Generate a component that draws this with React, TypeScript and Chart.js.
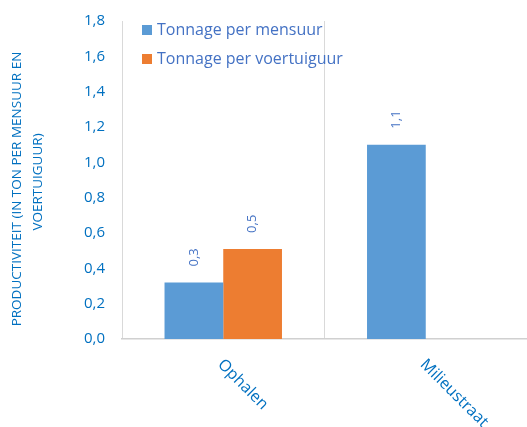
import React, { useEffect, useRef } from "react";
import { Chart, registerables } from "chart.js";

Chart.register(...registerables);

const categories = ["Ophalen", "Milieustraat"];
const seriesNames = ["Tonnage per mensuur", "Tonnage per voertuiguur"];
const tonnagePerMensuur: (number | null)[] = [0.32, 1.1];
const tonnagePerVoertuiguur: (number | null)[] = [0.51, null];
const seriesColors = ["#5B9BD5", "#ED7D31"];
const yMin = 0;
const yMax = 1.8;
const yStep = 0.2;
const yTitleLines = ["PRODUCTIVITEIT (IN TON PER MENSUUR EN", "VOERTUIGUUR)"];

const FONT = "'Open Sans', 'Liberation Sans', sans-serif";
const fmt = (v: number) => v.toFixed(1).replace(".", ",");

const customPlugin = {
  id: "customDraw",
  afterDraw(chart: any) {
    const ctx = chart.ctx as CanvasRenderingContext2D;
    const area = chart.chartArea;
    // data labels
    ctx.save();
    ctx.fillStyle = "#4472C4";
    ctx.font = `13px ${FONT}`;
    chart.data.datasets.forEach((ds: any, di: number) => {
      const meta = chart.getDatasetMeta(di);
      meta.data.forEach((bar: any, i: number) => {
        const v = ds.data[i];
        if (v === null || v === undefined) return;
        ctx.save();
        ctx.translate(bar.x, bar.y - 16);
        ctx.rotate(-Math.PI / 2);
        ctx.textAlign = "left";
        ctx.textBaseline = "middle";
        ctx.fillText(fmt(v), 0, 0);
        ctx.restore();
      });
    });
    ctx.restore();

    // x labels rotated clockwise
    const xScale = chart.scales.x;
    ctx.save();
    ctx.fillStyle = "#0070C0";
    ctx.font = `16px ${FONT}`;
    categories.forEach((c, i) => {
      const x = xScale.getPixelForValue(i);
      ctx.save();
      ctx.translate(x - 3, area.bottom + 23);
      ctx.rotate(Math.PI / 4);
      ctx.textAlign = "left";
      ctx.textBaseline = "middle";
      ctx.fillText(c, 0, 0);
      ctx.restore();
    });
    ctx.restore();

    // y title
    ctx.save();
    ctx.fillStyle = "#0070C0";
    ctx.font = `13.5px ${FONT}`;
    const xs = [17, 38];
    const ys = [189, 182];
    yTitleLines.forEach((line, i) => {
      ctx.save();
      ctx.translate(xs[i], ys[i]);
      ctx.rotate(-Math.PI / 2);
      ctx.textAlign = "center";
      ctx.textBaseline = "middle";
      ctx.fillText(line, 0, 0);
      ctx.restore();
    });
    ctx.restore();

    // legend
    ctx.save();
    ctx.font = `16px ${FONT}`;
    const ly = [30, 59];
    seriesNames.forEach((name, i) => {
      ctx.fillStyle = seriesColors[i];
      ctx.fillRect(area.left + 20, ly[i] - 5, 10, 10);
      ctx.fillStyle = "#4472C4";
      ctx.textAlign = "left";
      ctx.textBaseline = "middle";
      ctx.fillText(name, area.left + 35, ly[i]);
    });
    ctx.restore();
  },
};

export default function App() {
  const ref = useRef<HTMLCanvasElement | null>(null);
  useEffect(() => {
    if (!ref.current) return;
    const chart = new Chart(ref.current, {
      type: "bar",
      data: {
        labels: categories,
        datasets: [
          {
            label: seriesNames[0],
            data: tonnagePerMensuur,
            backgroundColor: seriesColors[0],
            borderWidth: 0,
          },
          {
            label: seriesNames[1],
            data: tonnagePerVoertuiguur,
            backgroundColor: seriesColors[1],
            borderWidth: 0,
          },
        ],
      },
      options: {
        animation: false,
        responsive: true,
        maintainAspectRatio: false,
        layout: { padding: { top: 21, right: 0, left: 0, bottom: 0 } },
        datasets: { bar: { categoryPercentage: 0.58, barPercentage: 1.0 } },
        plugins: {
          legend: { display: false },
          tooltip: { enabled: false },
          title: { display: false },
        },
        scales: {
          x: {
            offset: true,
            grid: { display: true, color: "#d9d9d9", lineWidth: 1, drawTicks: false, offset: true },
            border: { display: true, color: "#d0d0d0", width: 1.5 },
            ticks: { display: false },
            afterFit: (scale: any) => {
              scale.height = 88;
              scale.paddingLeft = 0;
              scale.paddingRight = 0;
            },
          },
          y: {
            min: yMin,
            max: yMax,
            grid: { display: false, drawTicks: false },
            border: { display: false },
            ticks: {
              stepSize: yStep,
              padding: 17,
              color: "#0070C0",
              font: { family: FONT, size: 15 },
              callback: (v: any) => fmt(Number(v)),
            },
            afterFit: (scale: any) => {
              scale.width = 122;
              scale.paddingTop = 0;
              scale.paddingBottom = 0;
            },
          },
        },
      },
      plugins: [customPlugin],
    });
    return () => chart.destroy();
  }, []);
  return (
    <div style={{ position: "fixed", left: 0, top: 0, width: 527, height: 427, background: "#fff" }}>
      <canvas ref={ref} />
    </div>
  );
}
